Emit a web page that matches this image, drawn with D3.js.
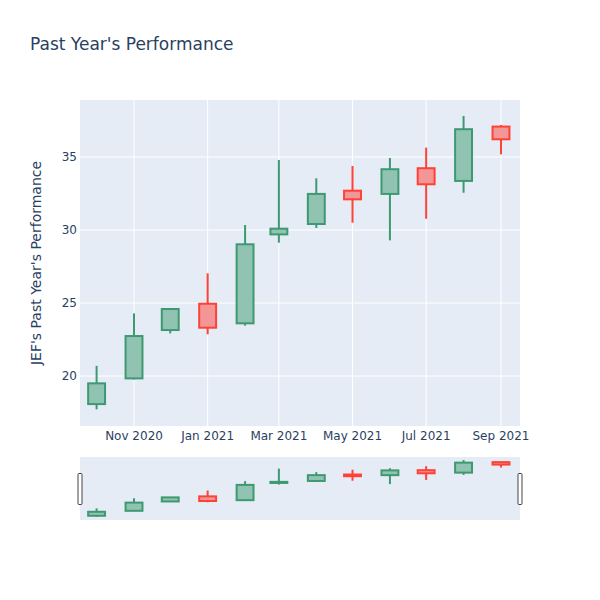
<!DOCTYPE html>
<html>
<head>
<meta charset="utf-8">
<script src="https://cdn.jsdelivr.net/npm/d3@7"></script>
<style>
  body { margin: 0; background: #fff; }
  svg { font-family: "DejaVu Sans", verdana, arial, sans-serif; }
</style>
</head>
<body>
<script>
// monthly candles, values
var dates = ['2020-10-01', '2020-11-01', '2020-12-01', '2021-01-01', '2021-02-01', '2021-03-01',
             '2021-04-01', '2021-05-01', '2021-06-01', '2021-07-01', '2021-08-01', '2021-09-01'];
var opens  = [18.08, 19.84, 23.15, 24.95, 23.61, 29.70, 30.41, 32.69, 32.47, 34.23, 33.36, 37.08];
var highs  = [20.70, 24.29, 24.60, 27.03, 30.34, 34.79, 33.54, 34.38, 34.93, 35.64, 37.81, 37.19];
var lows   = [17.72, 19.77, 22.92, 22.86, 23.45, 29.13, 30.14, 30.50, 29.29, 30.77, 32.55, 35.18];
var closes = [19.50, 22.74, 24.59, 23.31, 29.02, 30.09, 32.47, 32.10, 34.16, 33.13, 36.90, 36.21];
var yTicks = [20, 25, 30, 35];
var xTickDates = ['2020-11-01', '2021-01-01', '2021-03-01', '2021-05-01', '2021-07-01', '2021-09-01'];

var width = 600, height = 600;
var parse = d3.timeParse('%Y-%m-%d');
var fmt = d3.timeFormat('%b %Y');

var candles = dates.map(function(d, i) {
  return { date: parse(d), open: opens[i], high: highs[i], low: lows[i], close: closes[i] };
});

var svg = d3.select('body').append('svg')
  .attr('width', width)
  .attr('height', height);

// main plot area
var pLeft = 80, pRight = 520, pTop = 100, pBottom = 426;
var x = d3.scaleTime()
  .domain([new Date(2020, 8, 17, 6), new Date(2021, 8, 16, 18)])
  .range([pLeft, pRight]);
var y = d3.scaleLinear()
  .domain([16.58, 38.9])
  .range([pBottom, pTop]);

var halfBox = 7 * 24 * 3600 * 1000; // half a candle, in ms

svg.append('rect')
  .attr('x', pLeft).attr('y', pTop)
  .attr('width', pRight - pLeft).attr('height', pBottom - pTop)
  .attr('fill', '#E5ECF6');

// grid
svg.append('g').selectAll('line')
  .data(yTicks).enter().append('line')
  .attr('x1', pLeft).attr('x2', pRight)
  .attr('y1', function(d) { return y(d); })
  .attr('y2', function(d) { return y(d); })
  .attr('stroke', '#fff').attr('stroke-width', 1);

svg.append('g').selectAll('line')
  .data(xTickDates).enter().append('line')
  .attr('x1', function(d) { return x(parse(d)); })
  .attr('x2', function(d) { return x(parse(d)); })
  .attr('y1', pTop).attr('y2', pBottom)
  .attr('stroke', '#fff').attr('stroke-width', 1);

function drawCandles(g, ys) {
  g.selectAll('g')
    .data(candles).enter().append('g')
    .each(function(d) {
      var up = d.close >= d.open;
      var line = up ? '#3D9970' : '#FF4136';
      var fill = up ? 'rgba(61,153,112,0.5)' : 'rgba(255,65,54,0.5)';
      var sel = d3.select(this);
      var cx = x(d.date);
      sel.append('line')
        .attr('x1', cx).attr('x2', cx)
        .attr('y1', ys(d.high)).attr('y2', ys(d.low))
        .attr('stroke', line).attr('stroke-width', 2);
      var x0 = x(new Date(d.date.getTime() - halfBox));
      var x1 = x(new Date(d.date.getTime() + halfBox));
      var yTop = ys(Math.max(d.open, d.close));
      var yBot = ys(Math.min(d.open, d.close));
      sel.append('rect')
        .attr('x', x0).attr('y', yTop)
        .attr('width', x1 - x0).attr('height', Math.max(yBot - yTop, 0.5))
        .attr('fill', '#E5ECF6');
      sel.append('rect')
        .attr('x', x0).attr('y', yTop)
        .attr('width', x1 - x0).attr('height', Math.max(yBot - yTop, 0.5))
        .attr('fill', fill)
        .attr('stroke', line).attr('stroke-width', 2);
    });
}

drawCandles(svg.append('g'), y);

// y tick labels
svg.append('g').selectAll('text')
  .data(yTicks).enter().append('text')
  .attr('x', pLeft - 3)
  .attr('y', function(d) { return y(d); })
  .attr('dy', '0.35em')
  .attr('text-anchor', 'end')
  .attr('font-size', 12)
  .attr('fill', '#2a3f5f')
  .text(function(d) { return d; });

// x tick labels
svg.append('g').selectAll('text')
  .data(xTickDates).enter().append('text')
  .attr('x', function(d) { return x(parse(d)); })
  .attr('y', pBottom + 14)
  .attr('text-anchor', 'middle')
  .attr('font-size', 12)
  .attr('fill', '#2a3f5f')
  .text(function(d) { return fmt(parse(d)); });

// titles
svg.append('text')
  .attr('x', 30).attr('y', 50)
  .attr('font-size', 17)
  .attr('fill', '#2a3f5f')
  .text("Past Year's Performance");

svg.append('text')
  .attr('transform', 'translate(41,' + ((pTop + pBottom) / 2) + ') rotate(-90)')
  .attr('text-anchor', 'middle')
  .attr('font-size', 14)
  .attr('fill', '#2a3f5f')
  .text("JEF's Past Year's Performance");

// range slider
var sTop = 457, sBot = 520;
var ySlider = d3.scaleLinear().domain(y.domain()).range([sBot, sTop]);

svg.append('rect')
  .attr('x', pLeft).attr('y', sTop)
  .attr('width', pRight - pLeft).attr('height', sBot - sTop)
  .attr('fill', '#E5ECF6');

drawCandles(svg.append('g'), ySlider);

// slider grabbers
[pLeft, pRight].forEach(function(hx) {
  svg.append('rect')
    .attr('x', hx - 2).attr('y', 473.5)
    .attr('width', 4).attr('height', 31)
    .attr('rx', 1)
    .attr('fill', '#fff')
    .attr('stroke', '#444').attr('stroke-width', 1);
});
</script>
</body>
</html>
